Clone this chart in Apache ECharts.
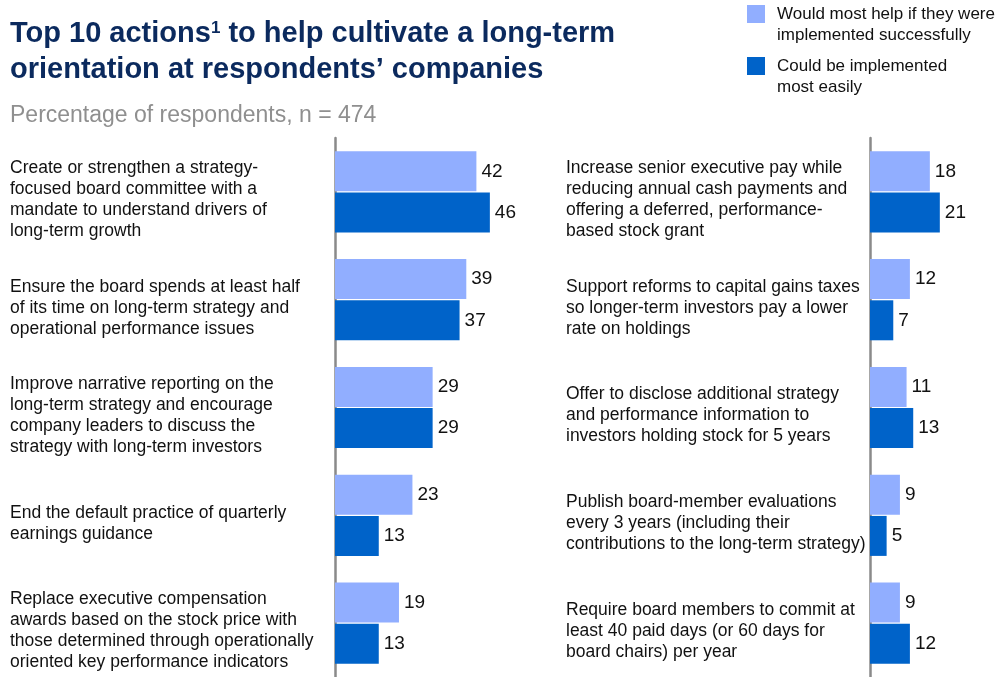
<!DOCTYPE html>
<html><head><meta charset="utf-8">
<script src="https://cdn.jsdelivr.net/npm/echarts@6/dist/echarts.min.js"></script>
<style>html,body{margin:0;padding:0;background:#fff}#c{width:1005px;height:677px}</style>
</head><body><div id="c"></div>
<script>
const leftCategories = [
  "Create or strengthen a strategy-\nfocused board committee with a\nmandate to understand drivers of\nlong-term growth",
  "Ensure the board spends at least half\nof its time on long-term strategy and\noperational performance issues",
  "Improve narrative reporting on the\nlong-term strategy and encourage\ncompany leaders to discuss the\nstrategy with long-term investors",
  "End the default practice of quarterly\nearnings guidance",
  "Replace executive compensation\nawards based on the stock price with\nthose determined through operationally\noriented key performance indicators"
];
const rightCategories = [
  "Increase senior executive pay while\nreducing annual cash payments and\noffering a deferred, performance-\nbased stock grant",
  "Support reforms to capital gains taxes\nso longer-term investors pay a lower\nrate on holdings",
  "Offer to disclose additional strategy\nand performance information to\ninvestors holding stock for 5 years",
  "Publish board-member evaluations\nevery 3 years (including their\ncontributions to the long-term strategy)",
  "Require board members to commit at\nleast 40 paid days (or 60 days for\nboard chairs) per year"
];
const leftHelp = [42, 39, 29, 23, 19];
const leftEasy = [46, 37, 29, 13, 13];
const rightHelp = [18, 12, 11, 9, 9];
const rightEasy = [21, 7, 13, 5, 12];
const seriesNames = ["Would most help if they were\nimplemented successfully", "Could be implemented\nmost easily"];

const FONT = "'Liberation Sans', Arial, sans-serif";
const LIGHT = '#91AEFF', DARK = '#0063C9';

const chart = echarts.init(document.getElementById('c'), null, {renderer: 'canvas'});

function catAxis(idx, data, margin) {
  return {
    type: 'category', gridIndex: idx, data: data, inverse: true, offset: 2,
    axisLine: {show: true, lineStyle: {color: '#8a8a8a', width: 2.5}},
    axisTick: {show: false}, splitLine: {show: false},
    axisLabel: {
      align: 'left', margin: margin, interval: 0,
      formatter: v => '{g| }\n' + v.split('\n').map(l => '{a|' + l + '}').join('\n'),
      rich: {
        g: {fontSize: 2, lineHeight: 16},
        a: {color: '#111', fontFamily: FONT, fontSize: 17.5, lineHeight: 21, align: 'left'}
      }
    }
  };
}
function valAxis(idx, max) {
  return {type: 'value', gridIndex: idx, min: 0, max: max, show: false, splitLine: {show: false}};
}
function bar(name, data, idx, color) {
  return {
    name: name, type: 'bar', xAxisIndex: idx, yAxisIndex: idx, data: data,
    barWidth: 40, barGap: '3%',
    itemStyle: {color: color},
    label: {show: true, position: 'right', distance: 5, color: '#111', fontFamily: FONT, fontSize: 19},
    emphasis: {disabled: true}, animation: false
  };
}
function legendItem(name, top) {
  return {
    data: [name], left: 747, top: top, padding: 0, itemWidth: 18, itemHeight: 18, itemGap: 0,
    icon: 'rect', selectedMode: false,
    formatter: n => '\n' + n,
    textStyle: {fontFamily: FONT, fontSize: 17, color: '#111', lineHeight: 21, padding: [0, 0, 0, 7]}
  };
}

chart.setOption({
  animation: false,
  title: [
    {
      left: 10, top: 16, padding: 0,
      text: '{t|Top 10 actions}{s|1}{t| to help cultivate a long-term}\n{t|orientation at respondents’ companies}',
      textStyle: {
        rich: {
          t: {fontFamily: FONT, fontSize: 29, fontWeight: 'bold', color: '#0B2A5E', lineHeight: 36},
          s: {fontFamily: FONT, fontSize: 17, fontWeight: 'bold', color: '#0B2A5E', lineHeight: 36, padding: [0, 0, 12, 0]}
        }
      }
    },
    {
      left: 10, top: 103, padding: 0, text: 'Percentage of respondents, n = 474',
      textStyle: {fontFamily: FONT, fontSize: 23, fontWeight: 'normal', color: '#8f8f8f', lineHeight: 26}
    }
  ],
  legend: [legendItem(seriesNames[0], -17.5), legendItem(seriesNames[1], 34.5)],
  grid: [
    {left: 335, top: 138, width: 202, bottom: 0},
    {left: 870, top: 138, width: 133, bottom: 0}
  ],
  xAxis: [valAxis(0, 60), valAxis(1, 40)],
  yAxis: [catAxis(0, leftCategories, 323), catAxis(1, rightCategories, 302)],
  series: [
    bar(seriesNames[0], leftHelp, 0, LIGHT),
    bar(seriesNames[1], leftEasy, 0, DARK),
    bar(seriesNames[0], rightHelp, 1, LIGHT),
    bar(seriesNames[1], rightEasy, 1, DARK)
  ]
});
</script></body></html>
